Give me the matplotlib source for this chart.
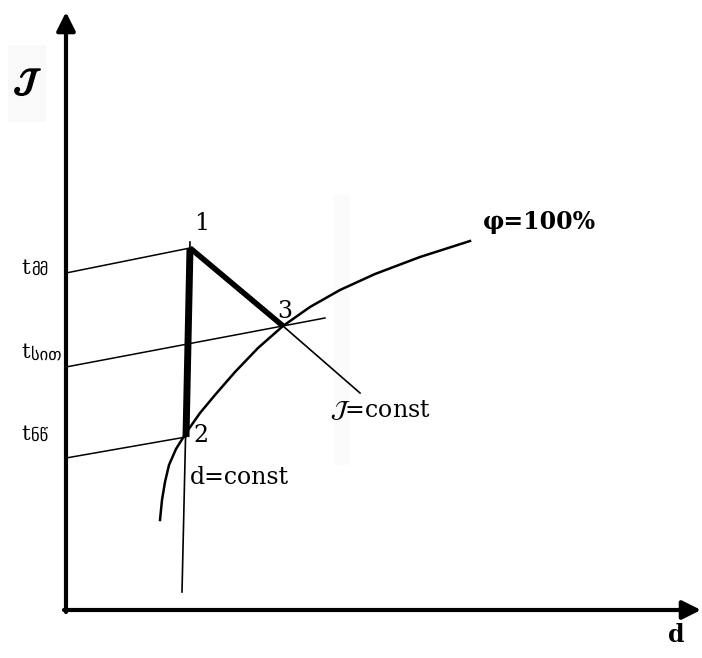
import matplotlib
matplotlib.use("Agg")
import matplotlib.pyplot as plt
import matplotlib.patheffects as pe

# diagram coordinates (pixel-like, y grows downward)
origin = (64, 611)
y_tip = (66, 12)
x_tip = (701, 610)

pt1 = (190, 248)
pt2 = (186, 437)
pt3 = (283, 326)
jconst_end = (360, 393)
dconst_x = [182, 190]
dconst_y = [592, 242]

# phi = 100% saturation curve
phi_x = [160, 162, 165, 169, 176, 186, 200, 215, 235, 258, 283, 310, 340, 375, 420, 470]
phi_y = [520, 500, 482, 465, 449, 433, 413, 395, 372, 348, 326, 307, 290, 274, 257, 241]

# temperature marks on the J axis and where their lines end
t_labels = ["მმ", "სით", "ნწ"]
t_axis_y = [273, 367, 458]
t_end_x = [pt1[0], 325, pt2[0]]
t_end_y = [pt1[1], 318, pt2[1]]
t_text_y = [268, 353, 434]

serif = ["DejaVu Serif"]
fs = 17

fig = plt.figure(figsize=(7.02, 6.58), dpi=100)
ax = fig.add_axes([0, 0, 1, 1])
ax.set_xlim(0, 702)
ax.set_ylim(658, 0)
ax.axis("off")

# faint scan artefacts
ax.fill_between([8, 46], 45, 122, color="#f9f9f9", lw=0)
ax.fill_between([334, 350], 195, 465, color="#fbfbfb", lw=0)

# axes with arrows
ax.annotate("", xy=y_tip, xytext=(origin[0] + 2, origin[1] + 1),
            arrowprops=dict(arrowstyle="-|>", lw=3, color="k", mutation_scale=28,
                            shrinkA=0, shrinkB=0))
ax.annotate("", xy=x_tip, xytext=(origin[0], origin[1] - 1),
            arrowprops=dict(arrowstyle="-|>", lw=3, color="k", mutation_scale=28,
                            shrinkA=0, shrinkB=0))

# temperature lines
for ly, ex, ey in zip(t_axis_y, t_end_x, t_end_y):
    ax.plot([66, ex], [ly, ey], color="k", lw=1.1)

# d = const and saturation curve
ax.plot(dconst_x, dconst_y, color="k", lw=1.2)
ax.plot(phi_x, phi_y, color="k", lw=1.8)

# J = const continuation
ax.plot([pt3[0], jconst_end[0]], [pt3[1], jconst_end[1]], color="k", lw=1.2)

# process lines
ax.plot([pt1[0], pt2[0]], [pt1[1], pt2[1]], color="k", lw=5, solid_capstyle="butt")
ax.plot([pt1[0], pt3[0]], [pt1[1], pt3[1]], color="k", lw=4, solid_capstyle="butt")

# labels
ax.text(pt1[0] + 12, pt1[1] - 24, "1", fontsize=fs, family=serif, ha="center", va="center")
ax.text(pt2[0] + 15, pt2[1] - 1, "2", fontsize=fs, family=serif, ha="center", va="center")
ax.text(pt3[0] + 2, pt3[1] - 15, "3", fontsize=fs, family=serif, ha="center", va="center")
ax.text(190, 477, "d=const", fontsize=fs, family=serif, ha="left", va="center")
ax.text(330, 410, r"$\mathcal{J}$=const", fontsize=fs, family=serif, ha="left", va="center",
        math_fontfamily="stix")
ax.text(483, 222, "φ=100%", fontsize=fs, family=serif, weight="bold", ha="left", va="center")
ax.text(676, 635, "d", fontsize=fs, family=serif, weight="bold", ha="center", va="center")
ax.text(28, 82, r"$\mathcal{J}$", fontsize=24, ha="center", va="center", math_fontfamily="stix",
        path_effects=[pe.withStroke(linewidth=1.2, foreground="k")])

for lab, ty in zip(t_labels, t_text_y):
    ax.text(21, ty, "t", fontsize=15, family=serif, ha="left", va="center")
    ax.text(31, ty + 2, lab, fontsize=12, family=["DejaVu Sans"], ha="left", va="center")

fig.savefig("out.png", dpi=100)
